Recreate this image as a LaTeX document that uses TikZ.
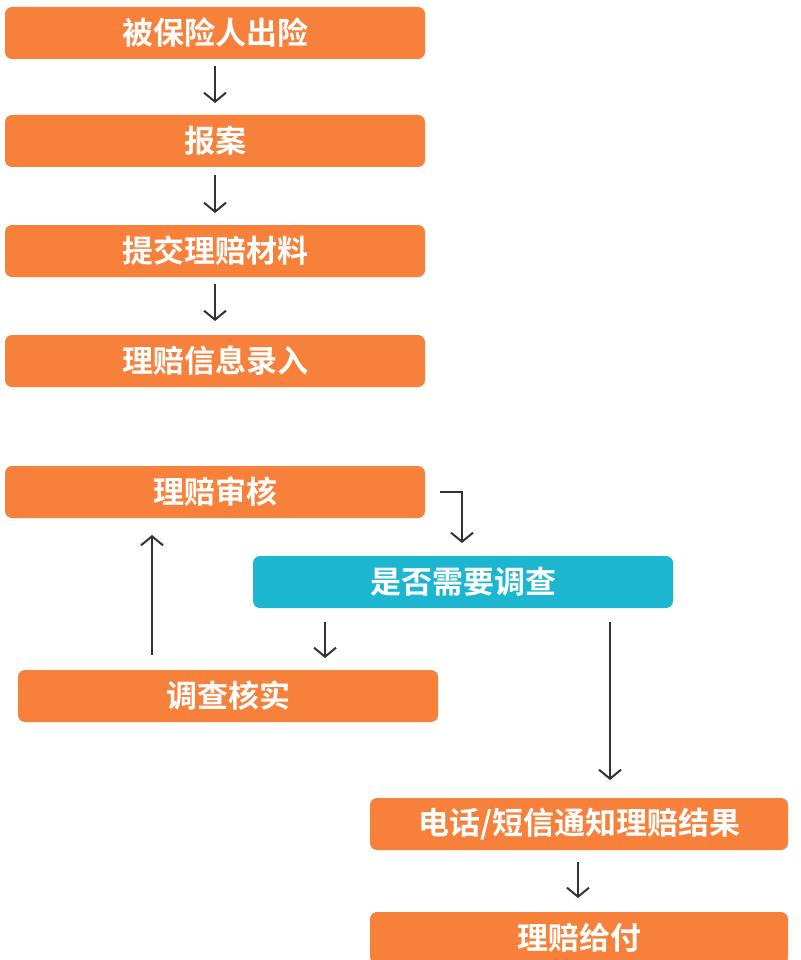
\documentclass[tikz,border=0pt]{standalone}
\usepackage{fontspec}
\newfontfamily\cjk{Noto Sans CJK SC Bold}
\usetikzlibrary{arrows.meta}
\definecolor{cheng}{HTML}{F7803A}
\definecolor{qing}{HTML}{1CB6D0}
\begin{document}
\begin{tikzpicture}[x=1pt,y=-1pt]
			\tikzset{kuang/.style={rectangle, rounded corners=7pt, fill=cheng, text=white, minimum width=420pt, minimum height=52pt, inner sep=0pt, font=\cjk\fontsize{31}{33}\selectfont}, jian/.style={-{Straight Barb[length=9pt,width=22pt,line width=2pt]}, line width=2pt, draw=black!80}};
			\useasboundingbox (0,0) rectangle (800,960);

			\node[kuang] (b1) at (215,  33) {被保险人出险};
			\node[kuang] (b2) at (215, 141) {报案};
			\node[kuang] (b3) at (215, 251) {提交理赔材料};
			\node[kuang] (b4) at (215, 361) {理赔信息录入};
			\node[kuang] (b5) at (215, 492) {理赔审核};
			\node[kuang, fill=qing] (b6) at (463, 582) {是否需要调查};
			\node[kuang] (b7) at (228, 696) {调查核实};
			\node[kuang, minimum width=418pt] (b8) at (579, 824) {电话/短信通知理赔结果};
			\node[kuang, minimum width=418pt] (b9) at (579, 938) {理赔给付};

			% arrow ends
			\coordinate (a1) at (215,  66); \coordinate (a2) at (215, 103);
			\coordinate (a3) at (215, 175); \coordinate (a4) at (215, 213);
			\coordinate (a5) at (215, 284); \coordinate (a6) at (215, 321);
			\coordinate (z1) at (440, 492); \coordinate (z2) at (462, 492); \coordinate (z3) at (462, 543);
			\coordinate (c1) at (325, 622); \coordinate (c2) at (325, 658);
			\coordinate (u1) at (152, 655); \coordinate (u2) at (152, 535);
			\coordinate (r1) at (610, 622); \coordinate (r2) at (610, 780);
			\coordinate (d1) at (578, 862); \coordinate (d2) at (578, 898);

			\draw[jian] (a1) -- (a2);
			\draw[jian] (a3) -- (a4);
			\draw[jian] (a5) -- (a6);
			\draw[jian] (z1) -- (z2) -- (z3);
			\draw[jian] (c1) -- (c2);
			\draw[jian] (u1) -- (u2);
			\draw[jian] (r1) -- (r2);
			\draw[jian] (d1) -- (d2);

		\end{tikzpicture}
\end{document}
